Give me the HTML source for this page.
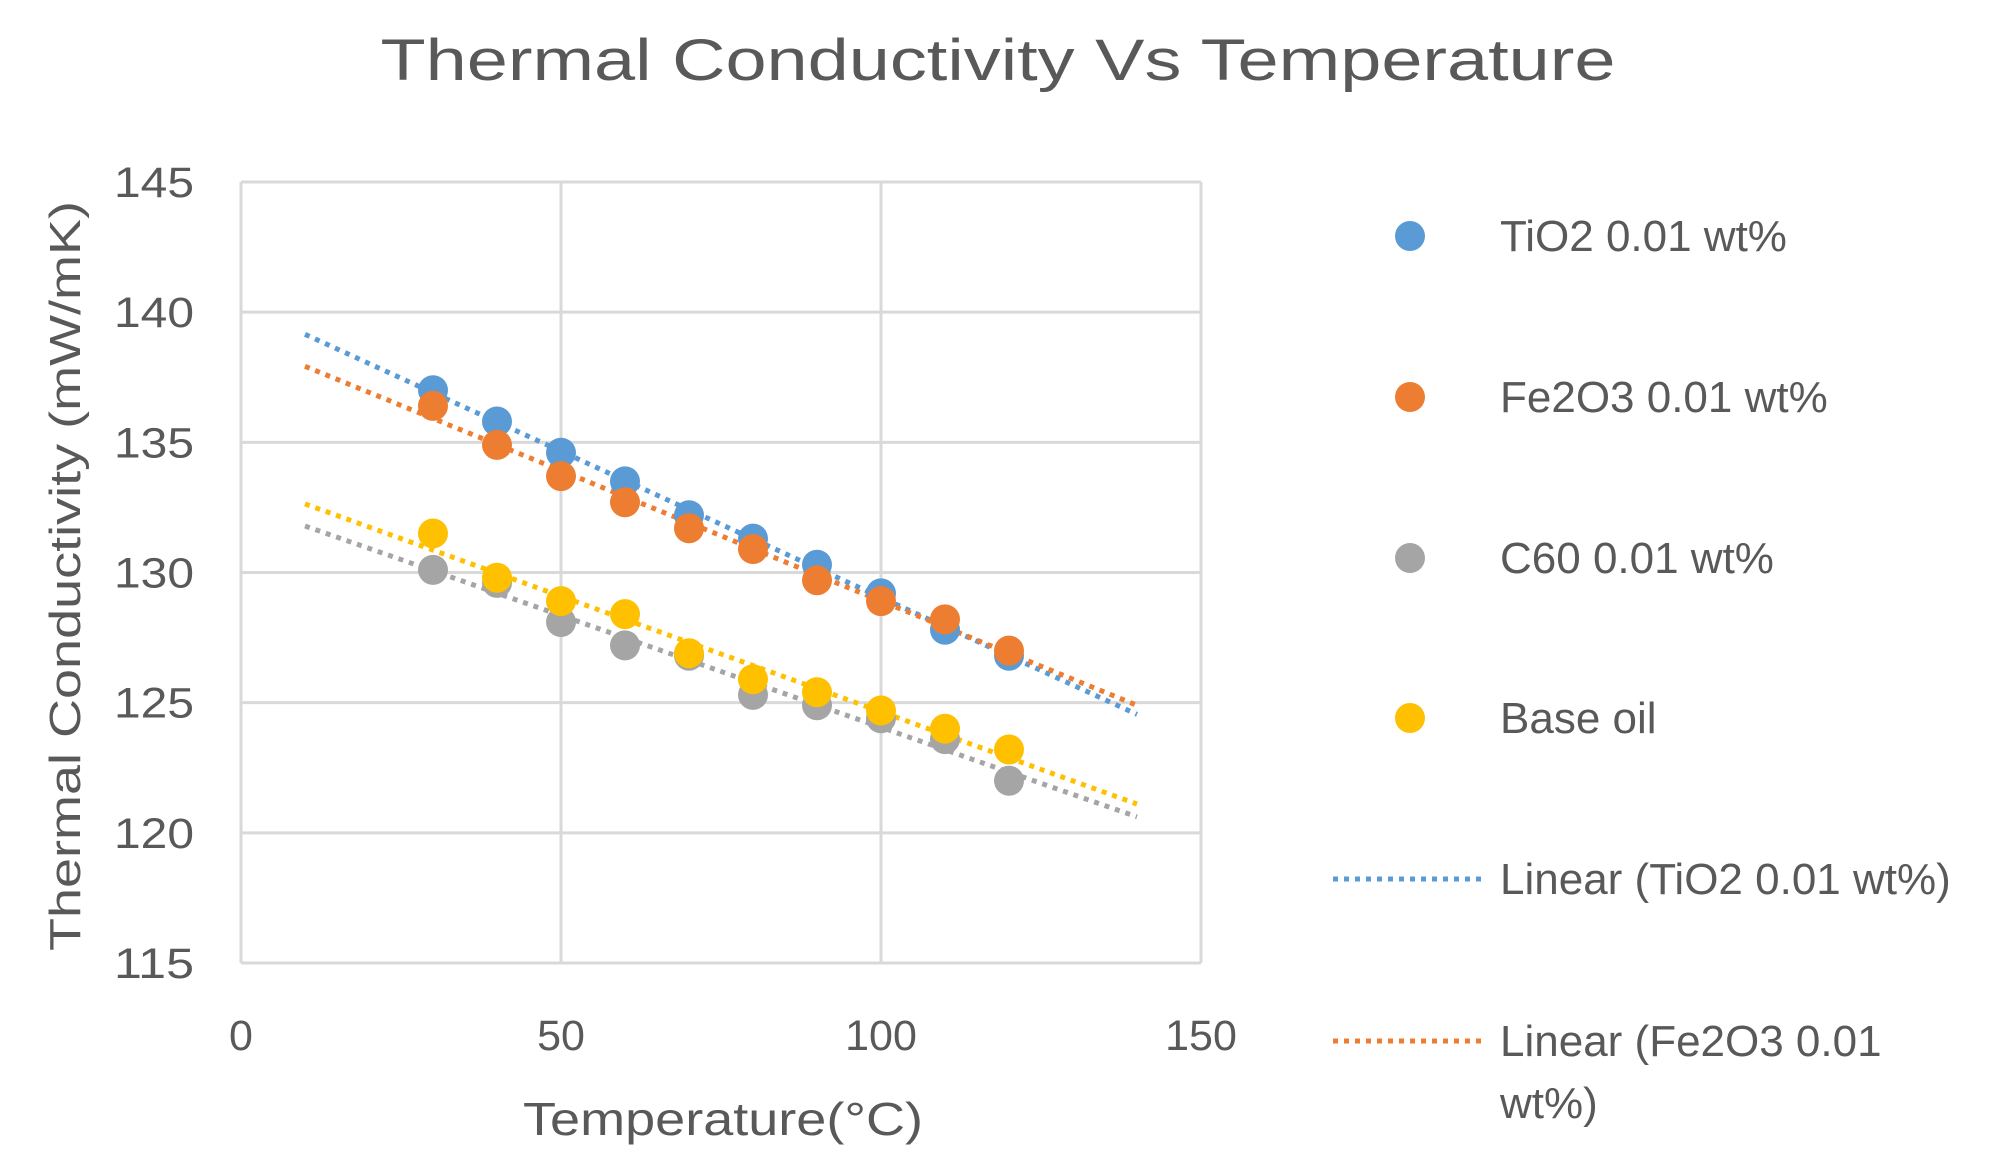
<!DOCTYPE html>
<html><head><meta charset="utf-8"><style>
body{margin:0;background:#fff}
svg{display:block;font-family:"Liberation Sans",sans-serif}
</style></head><body>
<svg id="chart" width="2000" height="1175" viewBox="0 0 2000 1175">
<text x="998" y="80" font-size="58" fill="#595959" text-anchor="middle" textLength="1235" lengthAdjust="spacingAndGlyphs">Thermal Conductivity Vs Temperature</text>
<g id="grid"></g>
<g id="trends"></g>
<g id="points"></g>
<g id="ticks"></g>
<text transform="translate(80,576) rotate(-90)" font-size="44" fill="#595959" text-anchor="middle" textLength="750" lengthAdjust="spacingAndGlyphs">Thermal Conductivity (mW/mK)</text>
<text x="723" y="1135" font-size="46" fill="#595959" text-anchor="middle" textLength="400" lengthAdjust="spacingAndGlyphs">Temperature(°C)</text>
<g id="legend"></g>
</svg>
<script>
const xs=[30,40,50,60,70,80,90,100,110,120];
const tio2=[137,135.8,134.6,133.5,132.2,131.3,130.3,129.2,127.8,126.8];
const fe2o3=[136.4,134.9,133.7,132.7,131.7,130.9,129.7,128.9,128.2,127.0];
const c60=[130.1,129.6,128.1,127.2,126.8,125.3,124.9,124.4,123.6,122.0];
const baseOil=[131.5,129.8,128.9,128.4,126.9,125.9,125.4,124.7,124.0,123.2];
const xTicks=[0,50,100,150];
const yTicks=[115,120,125,130,135,140,145];
const seriesNames=["TiO2 0.01 wt%","Fe2O3 0.01 wt%","C60 0.01 wt%","Base oil"];
const colors=["#5b9bd5","#ed7d31","#a5a5a5","#ffc000"];
const L=241,R=1201,T=182,B=963;
const X=v=>L+(v-0)/(150-0)*(R-L);
const Y=v=>B-(v-115)/(145-115)*(B-T);
const NS="http://www.w3.org/2000/svg";
function mk(tag,attrs,parent){const e=document.createElementNS(NS,tag);for(const k in attrs)e.setAttribute(k,attrs[k]);parent.appendChild(e);return e;}
const grid=document.getElementById('grid'),ticks=document.getElementById('ticks');
yTicks.forEach(v=>{const l=mk('line',{x1:L,x2:R,y1:Y(v),y2:Y(v),stroke:'#d9d9d9','stroke-width':3},grid);


const t=mk('text',{x:194,y:Y(v)+15,'font-size':43,fill:'#595959','text-anchor':'end',textLength:80,lengthAdjust:'spacingAndGlyphs'},ticks);t.textContent=v;

});
xTicks.forEach(v=>{const l=mk('line',{x1:X(v),x2:X(v),y1:T,y2:B,stroke:'#d9d9d9','stroke-width':3},grid);


const t=mk('text',{x:X(v),y:1050,'font-size':43,fill:'#595959','text-anchor':'middle'},ticks);t.textContent=v;

});
const all=[tio2,fe2o3,c60,baseOil];
const trends=document.getElementById('trends'),pts=document.getElementById('points');
all.forEach((ys,i)=>{const n=xs.length;const mx=xs.reduce((a,b)=>a+b)/n,my=ys.reduce((a,b)=>a+b)/n;
let sxy=0,sxx=0;xs.forEach((x,j)=>{sxy+=(x-mx)*(ys[j]-my);sxx+=(x-mx)**2;});const m=sxy/sxx,b=my-m*mx;
const x0=10,x1=140;
const ln=mk('line',{x1:X(x0),y1:Y(m*x0+b),x2:X(x1),y2:Y(m*x1+b),stroke:colors[i],'stroke-width':5,'stroke-dasharray':'5 6'},trends);

});
all.forEach((ys,i)=>{ys.forEach((v,j)=>{const c=mk('circle',{cx:X(xs[j]),cy:Y(v),r:15,fill:colors[i]},pts);

});});
const lg=document.getElementById('legend');
const rows=[236,397,558,718];
seriesNames.forEach((s,i)=>{const c=mk('circle',{cx:1410,cy:rows[i],r:15,fill:colors[i]},lg);


const t=mk('text',{x:1500,y:rows[i]+15,'font-size':44,fill:'#595959'},lg);t.textContent=s;

});
const lin=[["Linear (TiO2 0.01 wt%)",879,0],["Linear (Fe2O3 0.01",1041,1]];
lin.forEach(([s,y,ci])=>{const l=mk('line',{x1:1333,x2:1485,y1:y,y2:y,stroke:colors[ci],'stroke-width':5,'stroke-dasharray':'5 6'},lg);


const t=mk('text',{x:1500,y:y+15,'font-size':44,fill:'#595959'},lg);t.textContent=s;

});
const w=mk('text',{x:1500,y:1118,'font-size':44,fill:'#595959'},lg);w.textContent="wt%)";


</script>
</body></html>
